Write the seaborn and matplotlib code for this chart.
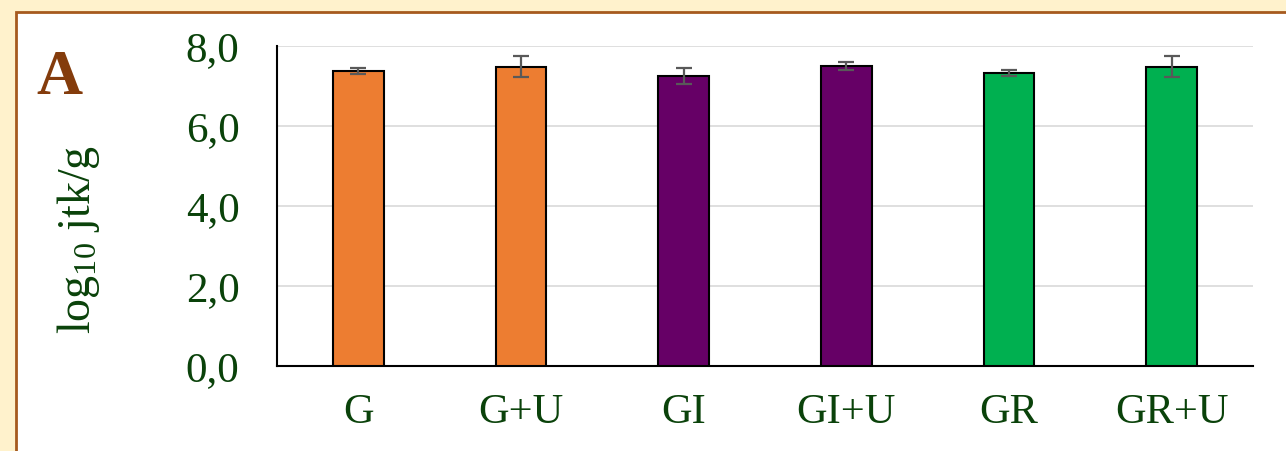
import matplotlib
matplotlib.use('Agg')
import matplotlib.pyplot as plt
from matplotlib.patches import Rectangle
import seaborn as sns

# values
groups = ['G', 'G+U', 'GI', 'GI+U', 'GR', 'GR+U']
log_counts = [7.38, 7.48, 7.25, 7.50, 7.33, 7.48]
sd = [0.07, 0.26, 0.19, 0.11, 0.07, 0.26]
bar_colors = ['#ED7D31', '#ED7D31', '#660066', '#660066', '#00B050', '#00B050']
yticks = [0, 2, 4, 6, 8]
ytick_labels = ['0,0', '2,0', '4,0', '6,0', '8,0']

sns.set_style('white')
plt.rcParams['font.family'] = ['Liberation Serif', 'DejaVu Serif']
plt.rcParams['mathtext.fontset'] = 'custom'
plt.rcParams['mathtext.rm'] = 'Liberation Serif'
plt.rcParams['mathtext.it'] = 'Liberation Serif:italic'
txt = '#0A420A'

fig = plt.figure(figsize=(12.86, 4.51), dpi=100)
fig.patch.set_facecolor('#FFF2CC')
# white panel with brown border
fig.patches.append(Rectangle((16/1286, -0.2), 1.0, 0.973 + 0.2, transform=fig.transFigure,
                             facecolor='white', edgecolor='#A65A1E', linewidth=2, zorder=-5))

ax = fig.add_axes([277/1286, 85/451, 976/1286, 320/451])
ax.set_zorder(2)
ax.set_facecolor('white')
sns.barplot(x=groups, y=log_counts, hue=groups, palette=bar_colors, width=0.31,
            saturation=1, edgecolor='black', linewidth=1.5, legend=False, ax=ax, zorder=3)
ax.errorbar(range(len(groups)), log_counts, yerr=sd, fmt='none', ecolor='#595959',
            elinewidth=1.6, capsize=6, capthick=1.6, zorder=4)

ax.set_ylim(0, 8)
ax.set_xlim(-0.5, 5.5)
ax.set_yticks(yticks)
ax.set_yticklabels(ytick_labels)
ax.yaxis.grid(True, color='#D9D9D9', linewidth=1.2, zorder=0)
ax.set_axisbelow(True)
ax.tick_params(axis='y', labelsize=31, colors=txt, length=0, pad=27)
ax.tick_params(axis='x', labelsize=30.5, colors=txt, length=0, pad=20)
for s in ['top', 'right']:
    ax.spines[s].set_visible(False)
ax.spines['left'].set_color('black')
ax.spines['bottom'].set_color('black')
ax.spines['left'].set_linewidth(1.5)
ax.spines['bottom'].set_linewidth(1.5)
ax.set_xlabel('')
ax.set_ylabel(r'log$_{10}$ jtk/g', fontsize=33, color=txt)
ax.yaxis.set_label_coords((102 - 277) / 976, (366 - 240) / 320)

fig.text(36/1286, 1 - 94/451, 'A', fontsize=46, fontweight='bold', color='#843C0C',
         ha='left', va='baseline', zorder=5)

fig.savefig('out.png', dpi=100, facecolor=fig.get_facecolor())
